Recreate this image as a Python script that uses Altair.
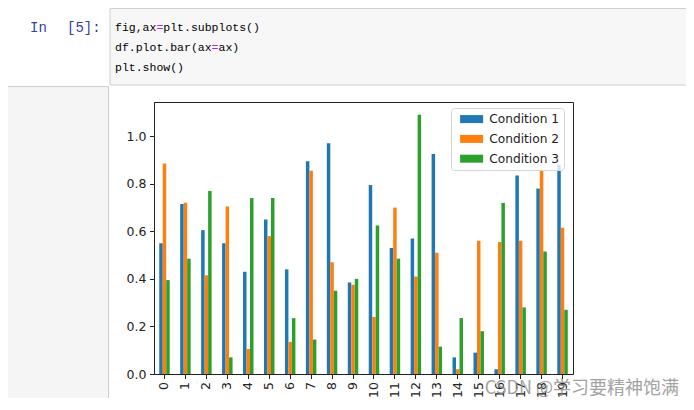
import altair as alt
import pandas as pd

# ---- data ----
categories = [str(i) for i in range(20)]
series = ["Condition 1", "Condition 2", "Condition 3"]
cond1 = [0.55, 0.715, 0.605, 0.55, 0.43, 0.65, 0.44, 0.895, 0.97, 0.385,
         0.795, 0.53, 0.57, 0.925, 0.07, 0.09, 0.02, 0.835, 0.78, 0.88]
cond2 = [0.885, 0.72, 0.415, 0.705, 0.105, 0.58, 0.135, 0.855, 0.47, 0.375,
         0.24, 0.70, 0.41, 0.51, 0.02, 0.56, 0.555, 0.56, 0.855, 0.615]
cond3 = [0.395, 0.485, 0.77, 0.07, 0.74, 0.74, 0.235, 0.145, 0.35, 0.40,
         0.625, 0.485, 1.09, 0.115, 0.235, 0.18, 0.72, 0.28, 0.515, 0.27]
y_ticks = [0.0, 0.2, 0.4, 0.6, 0.8, 1.0]
colors = ["#1f77b4", "#ff7f0e", "#2ca02c"]

code_lines = [["fig,ax", "=", "plt.subplots()"],
              ["df.plot.bar(ax", "=", "ax)"],
              ["plt.show()"]]
prompt_in = "In"
prompt_num = "[5]:"
watermark = "CSDN @学习要精神饱满"

rows = []
for i, c in enumerate(categories):
    for s, vals in zip(series, [cond1, cond2, cond3]):
        rows.append({"idx": c, "series": s, "value": vals[i]})
df = pd.DataFrame(rows)

one = pd.DataFrame({"k": [0]})

W, H = 419, 272

# ---- notebook decoration (pixel positions relative to plot origin) ----
code_box = alt.Chart(one).mark_rect(fill="#f7f7f7", stroke="#cfcfcf", strokeWidth=1).encode(
    x=alt.value(-44), x2=alt.value(560), y=alt.value(-93.5), y2=alt.value(-17)
)
out_box = alt.Chart(one).mark_rect(fill="#f5f5f5", stroke="#cfcfcf", strokeWidth=1).encode(
    x=alt.value(-150), x2=alt.value(-45.5), y=alt.value(-15.5), y2=alt.value(320)
)

layers = [code_box, out_box]

FS = 11.5
CW = 0.6 * FS
x0 = -39
for li, segs in enumerate(code_lines):
    pos = 0
    for seg in segs:
        col = "#AA22FF" if seg == "=" else "#000000"
        layers.append(
            alt.Chart(one).mark_text(
                text=seg, font="Liberation Mono", fontSize=FS, color=col,
                align="left", baseline="alphabetic"
            ).encode(x=alt.value(x0 + pos * CW), y=alt.value(-71 + 20 * li))
        )
        pos += len(seg)

layers.append(alt.Chart(one).mark_text(
    text=prompt_in, font="Liberation Mono", fontSize=14, color="#303F9F",
    align="left", baseline="alphabetic").encode(x=alt.value(-124), y=alt.value(-70)))
layers.append(alt.Chart(one).mark_text(
    text=prompt_num, font="Liberation Mono", fontSize=14, color="#303F9F",
    align="left", baseline="alphabetic").encode(x=alt.value(-87), y=alt.value(-70)))

# ---- the bar chart ----
bars = alt.Chart(df).mark_bar().encode(
    x=alt.X("idx:N", sort=categories,
            scale=alt.Scale(paddingInner=0.5, paddingOuter=0.25),
            axis=alt.Axis(title=None, labelAngle=270, labelAlign="right",
                          labelBaseline="middle", labelPadding=3)),
    xOffset=alt.XOffset("series:N", sort=series,
                        scale=alt.Scale(paddingInner=0, paddingOuter=0)),
    y=alt.Y("value:Q", scale=alt.Scale(domain=[0, 1.144], nice=False),
            axis=alt.Axis(title=None, values=y_ticks, format=".1f", grid=False,
                          labelPadding=3.5)),
    color=alt.Color("series:N", scale=alt.Scale(domain=series, range=colors),
                    legend=alt.Legend(
                        title=None, orient="none", legendX=297, legendY=6,
                        padding=5, strokeColor="#d5d5d5", fillColor="rgba(255,255,255,0.8)",
                        cornerRadius=3, symbolType="M-0.4,-0.8H4.2V0.8H-0.4Z",
                        symbolSize=100, symbolStrokeWidth=0, symbolOpacity=1,
                        labelFont="DejaVu Sans", labelFontSize=12.2, labelColor="#222222",
                        labelOffset=21, rowPadding=6.8)),
)
layers.append(bars)

layers.append(alt.Chart(one).mark_text(
    text=watermark, font="Noto Sans CJK SC", fontSize=18, color="#8c8c8c", opacity=0.8,
    align="right", baseline="alphabetic").encode(x=alt.value(525), y=alt.value(292)))

chart = alt.layer(*layers).properties(
    width=W, height=H,
    autosize=alt.AutoSizeParams(type="none"),
    padding={"left": 146, "top": 94, "right": 113, "bottom": 24},
).configure_view(
    stroke="#222222", strokeWidth=1
).configure_axis(
    domainColor="#222222", domainWidth=1, tickColor="#222222", tickWidth=1, tickSize=4.5,
    labelFont="DejaVu Sans", labelFontSize=12.5, labelColor="#222222"
)

chart.save("out.html", embed_options={"renderer": "svg", "actions": False})
